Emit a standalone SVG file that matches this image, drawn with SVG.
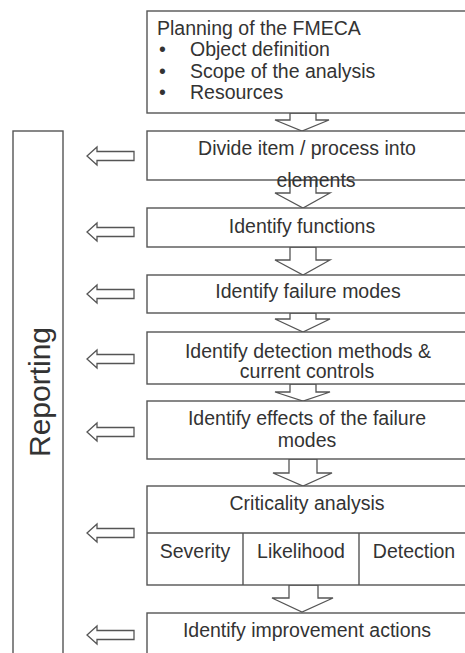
<svg xmlns="http://www.w3.org/2000/svg" width="465" height="653" viewBox="0 0 465 653">
<style>
.box{fill:#fff;stroke:#555;stroke-width:1.4}
.arr{fill:#fff;stroke:#555;stroke-width:1.3;stroke-linejoin:miter}
text{font-family:"Liberation Sans",Arial,sans-serif;font-size:19.5px;fill:#333}
.c{text-anchor:middle}
</style>
<rect width="465" height="653" fill="#fff"/>
<g id="reporting">
<rect class="box" x="13" y="131" width="50" height="540"/>
<text class="c" transform="translate(50,392) rotate(-90)" style="font-size:30px">Reporting</text>
</g>
<g id="connectors">
<polygon class="arr" points="290,113 290,120 275,120 302,131 329,120 316,120 316,113"/>
<polygon class="arr" points="290,180 290,193 275,193 303,208 330,193 316,193 316,180"/>
<polygon class="arr" points="290,247 290,260 275,260 303,275 330,260 316,260 316,247"/>
<polygon class="arr" points="290,313 290,319 275,319 303,332 330,319 316,319 316,313"/>
<polygon class="arr" points="290,384 290,392 275,392 303,401 330,392 316,392 316,384"/>
<polygon class="arr" points="289,459 289,473 273,473 303,486 332,473 317,473 317,459"/>
<polygon class="arr" points="289,585 289,598 272,598 302,612 333,598 318,598 318,585"/>
<polygon class="arr" points="134,151.5 97,151.5 97,147 87,156 97,165 97,160.5 134,160.5"/>
<polygon class="arr" points="134,227.5 97,227.5 97,223 87,232 97,241 97,236.5 134,236.5"/>
<polygon class="arr" points="134,289.5 97,289.5 97,285 87,294 97,303 97,298.5 134,298.5"/>
<polygon class="arr" points="134,354.5 97,354.5 97,350 87,359 97,368 97,363.5 134,363.5"/>
<polygon class="arr" points="134,427.5 97,427.5 97,423 87,432 97,441 97,436.5 134,436.5"/>
<polygon class="arr" points="134,528.5 97,528.5 97,524 87,533 97,542 97,537.5 134,537.5"/>
<polygon class="arr" points="134,630.5 97,630.5 97,626 87,635 97,644 97,639.5 134,639.5"/>
</g>
<g id="planning">
<rect class="box" x="147" y="11" width="330" height="102"/>
<text x="157" y="35">Planning of the FMECA</text>
<text x="159" y="56">•</text><text x="190" y="56">Object definition</text>
<text x="159" y="78">•</text><text x="190" y="78">Scope of the analysis</text>
<text x="159" y="99">•</text><text x="190" y="99">Resources</text>
</g>
<g id="divide">
<rect class="box" x="147" y="131" width="330" height="49"/>
<text class="c" x="307" y="155">Divide item / process into</text>
<text class="c" x="316" y="187">elements</text>
</g>
<g id="functions">
<rect class="box" x="147" y="208" width="330" height="39"/>
<text class="c" x="302" y="233">Identify functions</text>
</g>
<g id="failure-modes">
<rect class="box" x="147" y="275" width="330" height="38"/>
<text class="c" x="308" y="298">Identify failure modes</text>
</g>
<g id="detection">
<rect class="box" x="147" y="332" width="330" height="52"/>
<text class="c" x="308" y="358">Identify detection methods &amp;</text>
<text class="c" x="307" y="378">current controls</text>
</g>
<g id="effects">
<rect class="box" x="147" y="401" width="330" height="58"/>
<text class="c" x="307" y="425">Identify effects of the failure</text>
<text class="c" x="307" y="447">modes</text>
</g>
<g id="criticality">
<rect class="box" x="147" y="486" width="330" height="99"/>
<line class="box" x1="147" y1="533" x2="477" y2="533"/>
<line class="box" x1="243" y1="533" x2="243" y2="585"/>
<line class="box" x1="359" y1="533" x2="359" y2="585"/>
<text class="c" x="307" y="510">Criticality analysis</text>
<text class="c" x="195" y="558">Severity</text>
<text class="c" x="301" y="558">Likelihood</text>
<text class="c" x="414" y="558">Detection</text>
</g>
<g id="improvement">
<rect class="box" x="147" y="613" width="330" height="60"/>
<text class="c" x="307" y="637">Identify improvement actions</text>
</g>
</svg>
